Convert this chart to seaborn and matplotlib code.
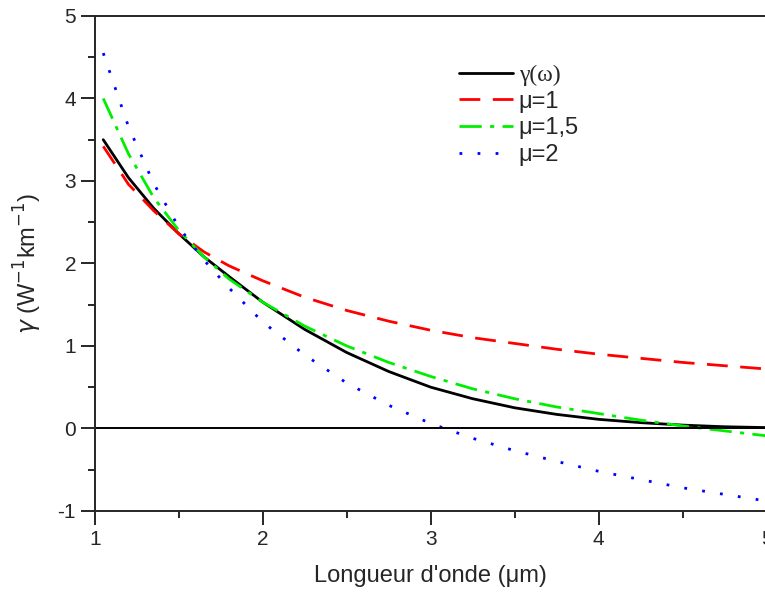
import numpy as np
import pandas as pd
import matplotlib
matplotlib.use("Agg")
import matplotlib.pyplot as plt
import seaborn as sns
from matplotlib.ticker import MultipleLocator

sns.set_style("ticks")
plt.rcParams['font.family'] = ['Liberation Sans', 'DejaVu Sans']
plt.rcParams['axes.unicode_minus'] = False

# values
wl = [1.05, 1.2, 1.35, 1.5, 1.65, 1.8, 2.0, 2.25, 2.5, 2.75, 3.0, 3.25, 3.5, 3.75, 4.0, 4.25, 4.5, 4.75, 5.0]
gamma_w = [3.50, 3.04, 2.67, 2.36, 2.08, 1.84, 1.53, 1.20, 0.92, 0.69, 0.50, 0.36, 0.25, 0.17, 0.11, 0.07, 0.04, 0.02, 0.01]
mu_1 = [3.42, 2.96, 2.64, 2.36, 2.14, 1.97, 1.79, 1.59, 1.43, 1.30, 1.19, 1.10, 1.03, 0.96, 0.90, 0.85, 0.80, 0.76, 0.72]
mu_15 = [4.00, 3.33, 2.80, 2.40, 2.08, 1.81, 1.53, 1.24, 1.00, 0.80, 0.63, 0.48, 0.36, 0.26, 0.18, 0.10, 0.03, -0.03, -0.09]
mu_2 = [4.55, 3.66, 2.97, 2.44, 2.04, 1.70, 1.29, 0.89, 0.55, 0.28, 0.06, -0.12, -0.27, -0.40, -0.52, -0.62, -0.72, -0.80, -0.88]

labels = ["γ(ω)", "μ=1", "μ=1,5", "μ=2"]
series = [gamma_w, mu_1, mu_15, mu_2]
colors = ["black", "#ff0000", "#00ee00", "#0000ff"]
dashes = ["-", (0, (7.5, 4.5)), (0, (8, 3, 1.5, 3)), (0, (1, 5.5))]

fig = plt.figure(figsize=(7.65, 5.92), dpi=100)
ax = fig.add_axes([0.124, 0.137, 0.878, 0.836])

for lab, ys, c, d in zip(labels, series, colors, dashes):
    df = pd.DataFrame({"x": wl, "y": ys})
    sns.lineplot(data=df, x="x", y="y", ax=ax, color=c, linewidth=2, label=lab)
    ax.lines[-1].set_linestyle(d)

ax.axhline(0, color="black", linewidth=1.4)

ax.set_xlim(1, 5)
ax.set_ylim(-1, 5)
ax.xaxis.set_major_locator(MultipleLocator(1))
ax.xaxis.set_minor_locator(MultipleLocator(0.5))
ax.yaxis.set_major_locator(MultipleLocator(1))
ax.yaxis.set_minor_locator(MultipleLocator(0.5))
ax.tick_params(which="major", length=10, width=1.4, labelsize=15, direction="out")
ax.tick_params(which="minor", length=5, width=1.4, direction="out")
for s in ax.spines.values():
    s.set_linewidth(1.4)
ax.spines["right"].set_visible(False)

ax.set_xlabel("Longueur d'onde (μm)", fontsize=17, labelpad=12)
ax.set_ylabel(r"$\gamma$ (W$^{-1}$km$^{-1}$)", fontsize=17, labelpad=10)

leg = ax.legend(loc="upper left", bbox_to_anchor=(0.51, 0.945), frameon=False,
                fontsize=17, handlelength=2.3, labelspacing=0.2, handletextpad=0.25)
leg.get_texts()[0].set_family(["Liberation Serif", "DejaVu Serif"])

fig.savefig("out.png", dpi=100)
